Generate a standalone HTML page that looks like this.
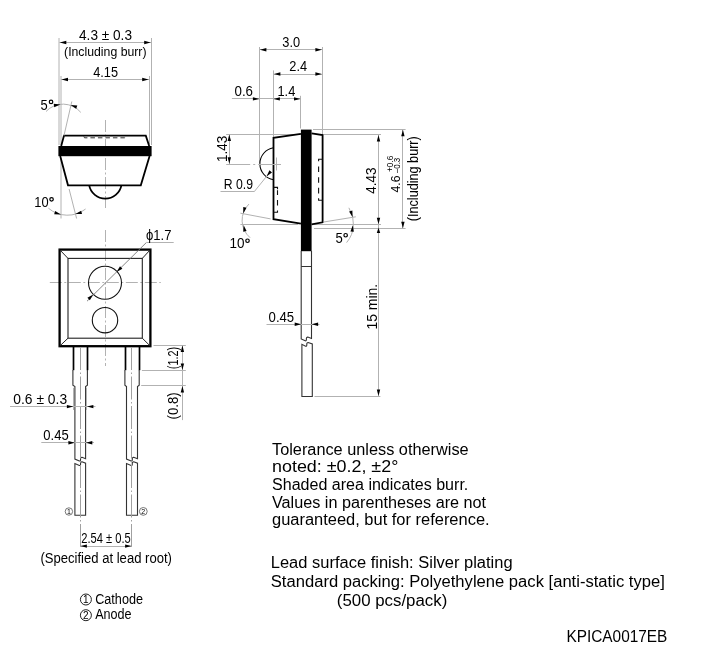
<!DOCTYPE html>
<html><head><meta charset="utf-8"><style>
html,body{margin:0;padding:0;background:#fff;}
svg{display:block;will-change:transform;}
text{font-family:"Liberation Sans",sans-serif;fill:#000;}
</style></head><body>
<svg width="702" height="655" viewBox="0 0 702 655">
<rect width="702" height="655" fill="#fff"/>
<line x1="59.0" y1="38" x2="59.0" y2="145" stroke="#b2b2b2" stroke-width="1" />
<line x1="61.0" y1="76" x2="61.0" y2="145" stroke="#b2b2b2" stroke-width="1" />
<line x1="61.0" y1="158" x2="61.0" y2="218.5" stroke="#b2b2b2" stroke-width="1" />
<line x1="151.5" y1="38" x2="151.5" y2="145" stroke="#b2b2b2" stroke-width="1" />
<line x1="149.5" y1="76" x2="149.5" y2="144" stroke="#b2b2b2" stroke-width="1" />
<line x1="59.3" y1="42.5" x2="151.2" y2="42.5" stroke="#b2b2b2" stroke-width="1" />
<path d="M59.80,42.50 L66.30,40.80 L66.30,44.20 Z" fill="#000"/>
<path d="M150.70,42.50 L144.20,44.20 L144.20,40.80 Z" fill="#000"/>
<text x="105.5" y="39.5" font-size="13.8" text-anchor="middle" textLength="53" lengthAdjust="spacingAndGlyphs" >4.3 ± 0.3</text>
<text x="105.3" y="55.8" font-size="12.6" text-anchor="middle" textLength="82.5" lengthAdjust="spacingAndGlyphs" >(Including burr)</text>
<line x1="61.0" y1="79.5" x2="149.2" y2="79.5" stroke="#b2b2b2" stroke-width="1" />
<path d="M61.50,79.50 L68.00,77.80 L68.00,81.20 Z" fill="#000"/>
<path d="M148.70,79.50 L142.20,81.20 L142.20,77.80 Z" fill="#000"/>
<text x="105.6" y="77.2" font-size="13.8" text-anchor="middle" textLength="24.8" lengthAdjust="spacingAndGlyphs" >4.15</text>
<line x1="105.5" y1="120" x2="105.5" y2="210" stroke="#b2b2b2" stroke-width="1" stroke-dasharray="12,2.5,2,2.5"/>
<path d="M61.2,146 L64,135.6 L145.8,135.6 L149.2,146" stroke="#000" stroke-width="1.8" fill="none" />
<rect x="58.4" y="146" width="93.2" height="10.2" fill="#000"/>
<path d="M60.2,156 L68,185.3 L140.8,185.3 L149.6,156" stroke="#000" stroke-width="1.8" fill="none" />
<path d="M89.2,185.3 A16.4,16.4 0 0 0 121.4,185.3" stroke="#000" stroke-width="1.8" fill="none" />
<path d="M83.8,136.4 L84.5,137.8 L124.8,137.8 L125.5,136.4" stroke="#333" stroke-width="1" fill="none" stroke-dasharray="4.5,3"/>
<line x1="64" y1="135.5" x2="71.8" y2="101.5" stroke="#b2b2b2" stroke-width="1" />
<path d="M46,111.5 A23.28,23.28 0 0 1 80.8,112.4" stroke="#b2b2b2" stroke-width="1" fill="none" />
<path d="M60.40,104.50 L54.22,107.15 L53.72,103.78 Z" fill="#000"/>
<path d="M70.60,104.90 L77.30,105.44 L76.17,108.65 Z" fill="#000"/>
<text x="40.5" y="109.5" font-size="13.8" text-anchor="start" textLength="7.2" lengthAdjust="spacingAndGlyphs" >5</text>
<circle cx="51.05" cy="101.9" r="1.75" fill="none" stroke="#000" stroke-width="1.2"/>
<line x1="69.1" y1="189" x2="76.6" y2="218.5" stroke="#b2b2b2" stroke-width="1" />
<path d="M48.4,208.2 A29.54,29.54 0 0 0 85.6,209" stroke="#b2b2b2" stroke-width="1" fill="none" />
<path d="M60.90,214.40 L54.19,214.16 L55.16,210.90 Z" fill="#000"/>
<path d="M75.30,213.90 L81.19,210.67 L82.02,213.97 Z" fill="#000"/>
<text x="34.3" y="206.6" font-size="13.8" text-anchor="start" textLength="14.3" lengthAdjust="spacingAndGlyphs" >10</text>
<circle cx="51.55" cy="199.3" r="1.75" fill="none" stroke="#000" stroke-width="1.2"/>
<line x1="105.5" y1="230" x2="105.5" y2="366" stroke="#b2b2b2" stroke-width="1" stroke-dasharray="12,2.5,2,2.5"/>
<line x1="49.8" y1="282.5" x2="160.8" y2="282.5" stroke="#b2b2b2" stroke-width="1" stroke-dasharray="12,2.5,2,2.5"/>
<rect x="59.6" y="249.6" width="90.8" height="96.6" fill="none" stroke="#000" stroke-width="2.3"/>
<rect x="68" y="258.4" width="74.3" height="79.8" fill="none" stroke="#222" stroke-width="1.1"/>
<line x1="59.6" y1="249.6" x2="68" y2="258.4" stroke="#222" stroke-width="1" />
<line x1="150.4" y1="249.6" x2="142.3" y2="258.4" stroke="#222" stroke-width="1" />
<line x1="59.6" y1="346.2" x2="68" y2="338.2" stroke="#222" stroke-width="1" />
<line x1="150.4" y1="346.2" x2="142.3" y2="338.2" stroke="#222" stroke-width="1" />
<circle cx="105" cy="282.8" r="16.5" fill="none" stroke="#111" stroke-width="1.1"/>
<circle cx="105" cy="320.2" r="12.7" fill="none" stroke="#111" stroke-width="1.1"/>
<line x1="87" y1="301.2" x2="146.3" y2="242.6" stroke="#777" stroke-width="0.9" />
<line x1="146.3" y1="242.5" x2="173.7" y2="242.5" stroke="#b2b2b2" stroke-width="1" />
<path d="M116.60,272.10 L119.99,266.30 L122.40,268.71 Z" fill="#000"/>
<path d="M93.20,294.40 L89.81,300.20 L87.40,297.79 Z" fill="#000"/>
<text x="146" y="239.5" font-size="13.8" text-anchor="start" textLength="25.5" lengthAdjust="spacingAndGlyphs" >ϕ1.7</text>
<line x1="73.5" y1="347" x2="73.5" y2="370.2" stroke="#000" stroke-width="1.7" />
<line x1="87.5" y1="347" x2="87.5" y2="370.2" stroke="#000" stroke-width="1.7" />
<path d="M72.9,370 L72.9,385.3 L74.9,386.5 L74.9,459.1 L79.35,461.00 Q80.55,461.20 80.55,459.80 L80.55,458.40 Q80.75,457.20 81.95,457.30 L85.60,458.70 L85.6,386.5 L87.4,385.3 L87.4,370" stroke="#333" stroke-width="1.1" fill="none" />
<path d="M74.9,515.2 L74.9,463.6 L79.35,465.50 Q80.55,465.70 80.55,464.30 L80.55,462.90 Q80.75,461.70 81.95,461.80 L85.60,463.20 L85.6,515.2 Z" stroke="#333" stroke-width="1.1" fill="none" />
<line x1="80.5" y1="347" x2="80.5" y2="548" stroke="#a0a0a0" stroke-width="1" stroke-dasharray="23,2.5,1.5,2.5"/>
<line x1="125.5" y1="347" x2="125.5" y2="370.2" stroke="#000" stroke-width="1.7" />
<line x1="139.5" y1="347" x2="139.5" y2="370.2" stroke="#000" stroke-width="1.7" />
<path d="M124.9,370 L124.9,385.3 L126.5,386.5 L126.5,459.1 L131.10,461.00 Q132.30,461.20 132.30,459.80 L132.30,458.40 Q132.50,457.20 133.70,457.30 L137.50,458.70 L137.5,386.5 L139.2,385.3 L139.2,370" stroke="#333" stroke-width="1.1" fill="none" />
<path d="M126.5,515.2 L126.5,463.6 L131.10,465.50 Q132.30,465.70 132.30,464.30 L132.30,462.90 Q132.50,461.70 133.70,461.80 L137.50,463.20 L137.5,515.2 Z" stroke="#333" stroke-width="1.1" fill="none" />
<line x1="131.5" y1="347" x2="131.5" y2="548" stroke="#a0a0a0" stroke-width="1" stroke-dasharray="23,2.5,1.5,2.5"/>
<line x1="153.5" y1="345.5" x2="185.8" y2="345.5" stroke="#b2b2b2" stroke-width="1" />
<line x1="141.9" y1="370.5" x2="185.8" y2="370.5" stroke="#b2b2b2" stroke-width="1" />
<line x1="141.2" y1="385.5" x2="185.8" y2="385.5" stroke="#b2b2b2" stroke-width="1" />
<line x1="182.5" y1="345.3" x2="182.5" y2="420.1" stroke="#b2b2b2" stroke-width="1" />
<path d="M182.40,345.60 L184.10,352.10 L180.70,352.10 Z" fill="#000"/>
<path d="M182.40,370.10 L180.70,363.60 L184.10,363.60 Z" fill="#000"/>
<path d="M182.40,386.10 L184.10,392.60 L180.70,392.60 Z" fill="#000"/>
<text transform="translate(177.6,369.2) rotate(-90)" font-size="13.8" text-anchor="start" textLength="22.3" lengthAdjust="spacingAndGlyphs" >(1.2)</text>
<text transform="translate(177.6,419.4) rotate(-90)" font-size="13.8" text-anchor="start" textLength="27" lengthAdjust="spacingAndGlyphs" >(0.8)</text>
<line x1="73.5" y1="387.8" x2="73.5" y2="410" stroke="#b2b2b2" stroke-width="1" />
<line x1="86.5" y1="387.8" x2="86.5" y2="410" stroke="#b2b2b2" stroke-width="1" />
<line x1="10" y1="406.5" x2="95.5" y2="406.5" stroke="#b2b2b2" stroke-width="1" />
<path d="M73.40,406.60 L66.90,408.30 L66.90,404.90 Z" fill="#000"/>
<path d="M86.90,406.60 L93.40,404.90 L93.40,408.30 Z" fill="#000"/>
<text x="13.3" y="403.5" font-size="13.8" text-anchor="start" textLength="53.8" lengthAdjust="spacingAndGlyphs" >0.6 ± 0.3</text>
<line x1="41.3" y1="442.5" x2="94" y2="442.5" stroke="#b2b2b2" stroke-width="1" />
<path d="M74.90,442.70 L68.40,444.40 L68.40,441.00 Z" fill="#000"/>
<path d="M85.80,442.70 L92.30,441.00 L92.30,444.40 Z" fill="#000"/>
<text x="43.3" y="439.8" font-size="13.8" text-anchor="start" textLength="25.4" lengthAdjust="spacingAndGlyphs" >0.45</text>
<line x1="80.2" y1="546.5" x2="131.8" y2="546.5" stroke="#b2b2b2" stroke-width="1" />
<path d="M80.40,546.10 L86.90,544.40 L86.90,547.80 Z" fill="#000"/>
<path d="M131.60,546.10 L125.10,547.80 L125.10,544.40 Z" fill="#000"/>
<text x="106" y="543.3" font-size="13.8" text-anchor="middle" textLength="49.5" lengthAdjust="spacingAndGlyphs" >2.54 ± 0.5</text>
<text x="106.2" y="563.2" font-size="13.8" text-anchor="middle" textLength="131.5" lengthAdjust="spacingAndGlyphs" >(Specified at lead root)</text>
<circle cx="68.9" cy="511.5" r="3.7" fill="none" stroke="#555" stroke-width="0.8"/>
<text x="68.9" y="513.88" font-size="7" text-anchor="middle" fill="#555">1</text>
<circle cx="143.3" cy="511.4" r="3.9" fill="none" stroke="#555" stroke-width="0.8"/>
<text x="143.3" y="513.78" font-size="7" text-anchor="middle" fill="#555">2</text>
<circle cx="85.9" cy="599.5" r="5.5" fill="none" stroke="#222" stroke-width="1.0"/>
<text x="85.9" y="602.9" font-size="10" text-anchor="middle" fill="#222">1</text>
<circle cx="85.9" cy="615.2" r="5.5" fill="none" stroke="#222" stroke-width="1.0"/>
<text x="85.9" y="618.6" font-size="10" text-anchor="middle" fill="#222">2</text>
<text x="95.2" y="603.8" font-size="13.8" text-anchor="start" textLength="47.8" lengthAdjust="spacingAndGlyphs" >Cathode</text>
<text x="95.2" y="619.4" font-size="13.8" text-anchor="start" textLength="36.4" lengthAdjust="spacingAndGlyphs" >Anode</text>
<line x1="259.5" y1="47" x2="259.5" y2="163" stroke="#b2b2b2" stroke-width="1" />
<line x1="273.5" y1="70.4" x2="273.5" y2="137" stroke="#b2b2b2" stroke-width="1" />
<line x1="300.5" y1="95.8" x2="300.5" y2="128.5" stroke="#b2b2b2" stroke-width="1" />
<line x1="322.5" y1="47" x2="322.5" y2="135" stroke="#b2b2b2" stroke-width="1" />
<line x1="259.4" y1="49.5" x2="322.4" y2="49.5" stroke="#b2b2b2" stroke-width="1" />
<path d="M259.90,49.70 L266.40,48.00 L266.40,51.40 Z" fill="#000"/>
<path d="M321.90,49.70 L315.40,51.40 L315.40,48.00 Z" fill="#000"/>
<text x="291.2" y="46.6" font-size="13.8" text-anchor="middle" textLength="17.8" lengthAdjust="spacingAndGlyphs" >3.0</text>
<line x1="273.4" y1="74.5" x2="322.4" y2="74.5" stroke="#b2b2b2" stroke-width="1" />
<path d="M273.90,74.00 L280.40,72.30 L280.40,75.70 Z" fill="#000"/>
<path d="M321.90,74.00 L315.40,75.70 L315.40,72.30 Z" fill="#000"/>
<text x="298.2" y="71" font-size="13.8" text-anchor="middle" textLength="17.8" lengthAdjust="spacingAndGlyphs" >2.4</text>
<line x1="231.9" y1="98.5" x2="300.5" y2="98.5" stroke="#b2b2b2" stroke-width="1" />
<path d="M259.40,98.90 L252.90,100.60 L252.90,97.20 Z" fill="#000"/>
<path d="M273.40,98.90 L279.90,97.20 L279.90,100.60 Z" fill="#000"/>
<path d="M300.50,98.90 L294.00,100.60 L294.00,97.20 Z" fill="#000"/>
<text x="234.5" y="95.5" font-size="13.8" text-anchor="start" textLength="18.5" lengthAdjust="spacingAndGlyphs" >0.6</text>
<text x="277.5" y="95.5" font-size="13.8" text-anchor="start" textLength="17.8" lengthAdjust="spacingAndGlyphs" >1.4</text>
<line x1="226.2" y1="134.5" x2="300" y2="134.5" stroke="#b2b2b2" stroke-width="1" />
<line x1="313" y1="129.5" x2="405.6" y2="129.5" stroke="#b2b2b2" stroke-width="1" />
<line x1="323.5" y1="134.5" x2="381" y2="134.5" stroke="#b2b2b2" stroke-width="1" />
<line x1="314" y1="224.5" x2="381" y2="224.5" stroke="#b2b2b2" stroke-width="1" />
<line x1="314" y1="228.5" x2="405.6" y2="228.5" stroke="#b2b2b2" stroke-width="1" />
<line x1="240.4" y1="224.5" x2="298" y2="224.5" stroke="#b2b2b2" stroke-width="1" />
<line x1="314.5" y1="396.5" x2="380.4" y2="396.5" stroke="#b2b2b2" stroke-width="1" />
<rect x="300.9" y="129.6" width="10.7" height="121.6" fill="#000"/>
<path d="M301.2,251 L301.2,338.9 L305.20,340.80 Q306.40,341.00 306.40,339.60 L306.40,338.20 Q306.60,337.00 307.80,337.10 L311.50,338.50 L311.5,251" stroke="#333" stroke-width="1.1" fill="none" />
<line x1="301.2" y1="266.5" x2="311.6" y2="266.5" stroke="#333" stroke-width="1" />
<path d="M301.9,396.5 L301.9,344.3 L305.60,346.20 Q306.80,346.40 306.80,345.00 L306.80,343.60 Q307.00,342.40 308.20,342.50 L312.30,343.90 L312.3,396.5 Z" stroke="#333" stroke-width="1.1" fill="none" />
<path d="M300.9,133.8 L273.5,137.9 L273.5,219.2 L300.9,223.7" stroke="#000" stroke-width="1.8" fill="none" />
<path d="M311.6,133.4 L322.6,135 L322.6,222.3 L311.6,224.3" stroke="#000" stroke-width="1.8" fill="none" />
<path d="M273.5,147.8 A16.15,16.15 0 0 0 273.5,179.7" stroke="#000" stroke-width="1.1" fill="none" />
<line x1="226.2" y1="164.5" x2="281" y2="164.5" stroke="#b2b2b2" stroke-width="1" stroke-dasharray="24,3,2,3"/>
<line x1="276.5" y1="157.5" x2="276.5" y2="170.5" stroke="#b2b2b2" stroke-width="1" />
<line x1="229.5" y1="134.3" x2="229.5" y2="164" stroke="#b2b2b2" stroke-width="1" />
<path d="M229.30,134.60 L231.00,141.10 L227.60,141.10 Z" fill="#000"/>
<path d="M229.30,163.70 L227.60,157.20 L231.00,157.20 Z" fill="#000"/>
<text transform="translate(226.6,162) rotate(-90)" font-size="13.8" text-anchor="start" textLength="26.2" lengthAdjust="spacingAndGlyphs" >1.43</text>
<line x1="220.5" y1="191.5" x2="254.7" y2="191.5" stroke="#b2b2b2" stroke-width="1" />
<line x1="254.7" y1="191.1" x2="270.3" y2="171.8" stroke="#b2b2b2" stroke-width="1" />
<path d="M266.50,176.40 L269.43,170.36 L272.02,172.57 Z" fill="#000"/>
<text x="223.8" y="188.9" font-size="13.8" text-anchor="start" textLength="29.2" lengthAdjust="spacingAndGlyphs" >R 0.9</text>
<path d="M273.5,187.4 L277.5,187.4 L277.5,189.3 M277.5,190.2 L277.5,195 M277.5,200.1 L277.5,205.6 M277.5,210.6 L277.5,212.2 L273.5,212.2" stroke="#111" stroke-width="1.1" fill="none" />
<path d="M322.6,159.3 L318.6,159.3 L318.6,161.2 M318.6,166.5 L318.6,172 M318.6,177.2 L318.6,182.7 M318.6,187.8 L318.6,193.4 M318.6,198.3 L318.6,200.3 L322.6,200.3" stroke="#111" stroke-width="1.1" fill="none" />
<line x1="270.6" y1="218.9" x2="240.4" y2="213.2" stroke="#b2b2b2" stroke-width="1" />
<path d="M248.9,204.1 A22.78,22.78 0 0 0 250.1,237.7" stroke="#b2b2b2" stroke-width="1" fill="none" />
<path d="M243.30,213.60 L243.23,206.88 L246.53,207.71 Z" fill="#000"/>
<path d="M243.60,225.00 L246.54,231.04 L243.21,231.71 Z" fill="#000"/>
<text x="229.5" y="248.1" font-size="13.8" text-anchor="start" textLength="15.0" lengthAdjust="spacingAndGlyphs" >10</text>
<circle cx="247.5" cy="240.75" r="1.75" fill="none" stroke="#000" stroke-width="1.2"/>
<line x1="323.7" y1="222" x2="355.8" y2="216.8" stroke="#b2b2b2" stroke-width="1" />
<path d="M348.9,207.8 A29.44,29.44 0 0 1 346.6,242.6" stroke="#b2b2b2" stroke-width="1" fill="none" />
<path d="M352.60,217.20 L349.10,211.46 L352.36,210.49 Z" fill="#000"/>
<path d="M352.80,225.20 L353.84,231.84 L350.46,231.50 Z" fill="#000"/>
<text x="335.4" y="242.8" font-size="13.8" text-anchor="start" textLength="7.3" lengthAdjust="spacingAndGlyphs" >5</text>
<circle cx="345.65" cy="235.25" r="1.75" fill="none" stroke="#000" stroke-width="1.2"/>
<line x1="378.5" y1="134.8" x2="378.5" y2="396.3" stroke="#b2b2b2" stroke-width="1" />
<path d="M378.50,135.10 L380.20,141.60 L376.80,141.60 Z" fill="#000"/>
<path d="M378.50,224.30 L376.80,217.80 L380.20,217.80 Z" fill="#000"/>
<path d="M378.50,227.60 L380.20,233.10 L376.80,233.10 Z" fill="#000"/>
<path d="M378.50,396.00 L376.80,389.50 L380.20,389.50 Z" fill="#000"/>
<text transform="translate(376.4,193.8) rotate(-90)" font-size="13.8" text-anchor="start" textLength="26.3" lengthAdjust="spacingAndGlyphs" >4.43</text>
<text transform="translate(376.9,329.6) rotate(-90)" font-size="13.8" text-anchor="start" textLength="45.8" lengthAdjust="spacingAndGlyphs" >15 min.</text>
<line x1="402.5" y1="129.5" x2="402.5" y2="228.3" stroke="#b2b2b2" stroke-width="1" />
<path d="M402.90,129.80 L404.60,136.30 L401.20,136.30 Z" fill="#000"/>
<path d="M402.90,228.20 L401.20,221.70 L404.60,221.70 Z" fill="#000"/>
<text transform="translate(400.4,192.4) rotate(-90)" font-size="13.5" text-anchor="start" textLength="16.9" lengthAdjust="spacingAndGlyphs" >4.6</text>
<text transform="translate(392.7,172.0) rotate(-90)" font-size="8.8" text-anchor="start" textLength="16.4" lengthAdjust="spacingAndGlyphs" >+0.6</text>
<text transform="translate(400.4,173.4) rotate(-90)" font-size="8.8" text-anchor="start" textLength="15.7" lengthAdjust="spacingAndGlyphs" >−0.3</text>
<text transform="translate(417.6,221.2) rotate(-90)" font-size="13.8" text-anchor="start" textLength="85" lengthAdjust="spacingAndGlyphs" >(Including burr)</text>
<line x1="266.5" y1="324.5" x2="319.5" y2="324.5" stroke="#b2b2b2" stroke-width="1" />
<path d="M301.20,324.20 L294.70,325.90 L294.70,322.50 Z" fill="#000"/>
<path d="M311.60,324.20 L318.10,322.50 L318.10,325.90 Z" fill="#000"/>
<text x="268.6" y="321.5" font-size="13.8" text-anchor="start" textLength="25.6" lengthAdjust="spacingAndGlyphs" >0.45</text>
<text x="272.0" y="454.7" font-size="16" text-anchor="start" textLength="196.6" lengthAdjust="spacingAndGlyphs" >Tolerance unless otherwise</text>
<text x="272.0" y="472.3" font-size="16" text-anchor="start" textLength="126.3" lengthAdjust="spacingAndGlyphs" >noted: ±0.2, ±2°</text>
<text x="272.0" y="490.0" font-size="16" text-anchor="start" textLength="196.3" lengthAdjust="spacingAndGlyphs" >Shaded area indicates burr.</text>
<text x="272.0" y="507.6" font-size="16" text-anchor="start" textLength="214.1" lengthAdjust="spacingAndGlyphs" >Values in parentheses are not</text>
<text x="272.0" y="525.4" font-size="16" text-anchor="start" textLength="217.6" lengthAdjust="spacingAndGlyphs" >guaranteed, but for reference.</text>
<text x="270.8" y="567.6" font-size="15.6" text-anchor="start" textLength="241.8" lengthAdjust="spacingAndGlyphs" >Lead surface finish: Silver plating</text>
<text x="270.8" y="586.7" font-size="15.6" text-anchor="start" textLength="394" lengthAdjust="spacingAndGlyphs" >Standard packing: Polyethylene pack [anti-static type]</text>
<text x="336.8" y="605.5" font-size="15.6" text-anchor="start" textLength="110.5" lengthAdjust="spacingAndGlyphs" >(500 pcs/pack)</text>
<text x="566.4" y="641.6" font-size="15.6" text-anchor="start" textLength="101" lengthAdjust="spacingAndGlyphs" >KPICA0017EB</text>
</svg>
</body></html>
